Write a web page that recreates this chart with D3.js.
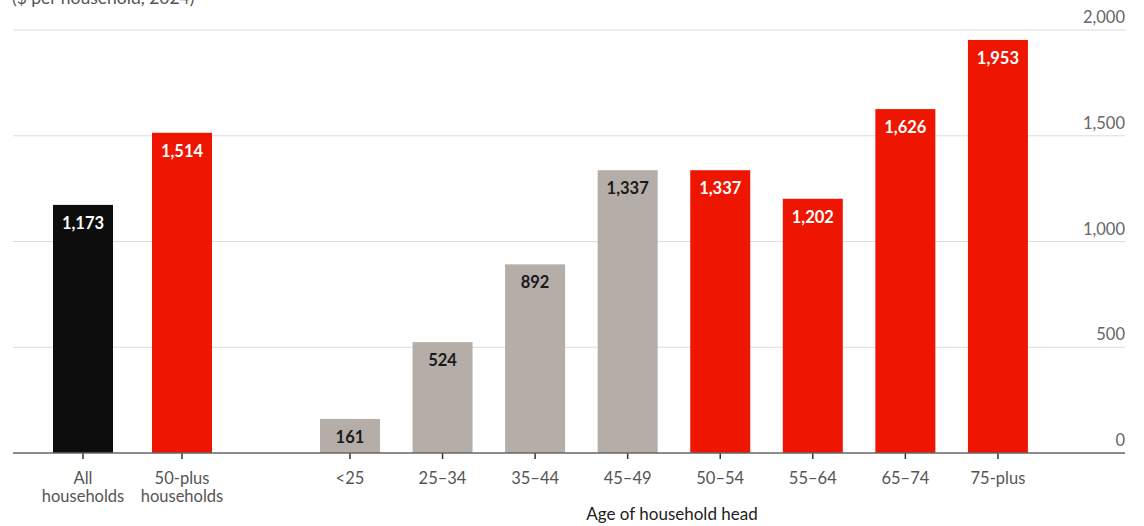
<!DOCTYPE html>
<html><head><meta charset="utf-8">
<script src="https://cdn.jsdelivr.net/npm/d3@7"></script>
<style>body{margin:0;background:#fff;} svg{display:block;font-family:Lato,"Open Sans",sans-serif;}</style>
</head><body>
<svg id="c" width="1144" height="526"></svg>
<script>
const summaryCats = ["All households", "50-plus households"];
const summaryLabels = [["All", "households"], ["50-plus", "households"]];
const summaryValues = [1173, 1514];
const summaryColors = ["#0d0d0d", "#ee1600"];
const ageCats = ["<25", "25–34", "35–44", "45–49", "50–54", "55–64", "65–74", "75-plus"];
const ageValues = [161, 524, 892, 1337, 1337, 1202, 1626, 1953];
const ageColors = ["#b5ada7", "#b5ada7", "#b5ada7", "#b5ada7", "#ee1600", "#ee1600", "#ee1600", "#ee1600"];
const yTicks = [0, 500, 1000, 1500, 2000];
const titleText = "($ per household, 2024)";
const xTitle = "Age of household head";

const svg = d3.select("#c");
const y = d3.scaleLinear().domain([0, 2000]).range([453, 30]);
const xL = d3.scaleBand().domain(summaryCats).range([14, 251]).paddingInner(0.394).paddingOuter(0.394);
const xR = d3.scaleBand().domain(ageCats).range([287.4, 1060.5]).paddingInner(0.352).paddingOuter(0.352);
const fmt = d3.format(",");

// grid
svg.append("g").selectAll("line").data(yTicks.filter(d => d > 0)).join("line")
  .attr("x1", 13).attr("x2", 1125).attr("y1", d => y(d)).attr("y2", d => y(d))
  .attr("stroke", "#dcdcdc").attr("stroke-width", 1);
svg.append("g").selectAll("text").data(yTicks).join("text")
  .attr("x", 1125).attr("y", d => y(d) - 7).attr("text-anchor", "end")
  .attr("fill", "#666").attr("font-size", 16.5).text(d => fmt(d));

svg.append("text").attr("x", 12).attr("y", 4).attr("fill", "#555").attr("font-size", 17.5).text(titleText);

function drawBars(cats, vals, cols, x) {
  const data = cats.map((c, i) => ({c, v: vals[i], col: cols[i]}));
  const g = svg.append("g");
  g.selectAll("rect").data(data).join("rect")
    .attr("x", d => x(d.c)).attr("width", x.bandwidth())
    .attr("y", d => y(d.v)).attr("height", d => y(0) - y(d.v)).attr("fill", d => d.col);
  g.selectAll("text").data(data).join("text")
    .attr("x", d => x(d.c) + x.bandwidth() / 2).attr("y", d => y(d.v) + 24)
    .attr("text-anchor", "middle").attr("font-weight", "bold").attr("font-size", 16.5)
    .attr("fill", d => d.col === "#b5ada7" ? "#1a1a1a" : "#fff").text(d => fmt(d.v));
  g.selectAll("line").data(data).join("line")
    .attr("x1", d => x(d.c) + x.bandwidth() / 2).attr("x2", d => x(d.c) + x.bandwidth() / 2)
    .attr("y1", 453).attr("y2", 459).attr("stroke", "#333").attr("stroke-width", 1.5);
}
drawBars(summaryCats, summaryValues, summaryColors, xL);
drawBars(ageCats, ageValues, ageColors, xR);

// baseline
svg.append("line").attr("x1", 13).attr("x2", 1125).attr("y1", 453).attr("y2", 453)
  .attr("stroke", "#666").attr("stroke-width", 1.5);

// summary labels
summaryCats.forEach((c, i) => {
  const t = svg.append("text").attr("x", xL(c) + xL.bandwidth() / 2).attr("y", 484)
    .attr("text-anchor", "middle").attr("fill", "#555").attr("font-size", 16.5);
  summaryLabels[i].forEach((line, j) => t.append("tspan").attr("x", xL(c) + xL.bandwidth() / 2).attr("dy", j ? 18 : 0).text(line));
});
svg.append("g").selectAll("text").data(ageCats).join("text")
  .attr("x", d => xR(d) + xR.bandwidth() / 2).attr("y", 484).attr("text-anchor", "middle")
  .attr("fill", "#555").attr("font-size", 16.5).text(d => d);

svg.append("text").attr("x", 672).attr("y", 520).attr("text-anchor", "middle")
  .attr("fill", "#222").attr("font-size", 17).text(xTitle);
</script>
</body></html>
